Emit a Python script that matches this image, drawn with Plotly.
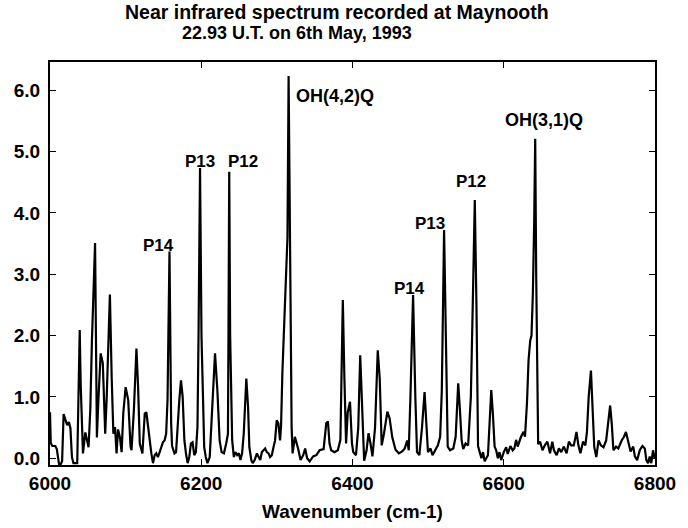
import plotly.graph_objects as go

# Wavenumber (cm-1) and intensity
wavenumber = [
    6000, 6001, 6003, 6007, 6009, 6012, 6014, 6016, 6018, 6020.5, 6022.7, 6025, 6027, 6029, 6031, 6036,
    6039.3, 6040.6, 6043.6, 6046.7, 6048.8, 6051, 6053.3, 6055.4, 6059.6, 6062, 6064, 6067, 6069.8, 6073,
    6075, 6079.2, 6081.6, 6083.8, 6086, 6088, 6090, 6092.6, 6094.7, 6096.9, 6100, 6103.4, 6106.5, 6107.8,
    6110.9, 6114.3, 6116.5, 6118.7, 6122.2, 6125.3, 6127.4, 6129.6, 6131.8, 6134, 6136.2, 6138.4, 6140.5,
    6142.7, 6145, 6147, 6149.3, 6151.5, 6153.6, 6155.4, 6158, 6160.2, 6161.4, 6164.6, 6166.7, 6171, 6173.2,
    6175.4, 6177.7, 6179.8, 6182, 6184.2, 6186.3, 6188.5, 6190.8, 6192.9, 6195, 6196.4, 6198.4, 6200.3,
    6203.9, 6206, 6208.2, 6211.2, 6214.7, 6218.2, 6221.3, 6224.3, 6226.9, 6230, 6233, 6235.3, 6236, 6237,
    6238.2, 6240.9, 6243.1, 6245.2, 6247.5, 6249.7, 6251.8, 6254, 6256.2, 6258.3, 6259.6, 6261.9, 6263.6,
    6266.2, 6268, 6270.6, 6273.6, 6275.9, 6278, 6280.2, 6282.4, 6284.5, 6286.7, 6289, 6291, 6293.3, 6295.5,
    6297.6, 6299.8, 6302, 6304.2, 6305.5, 6307.3, 6309.7, 6311.6, 6314, 6315.5, 6317.5, 6319.5, 6320.8,
    6323.8, 6328.2, 6331.3, 6334.8, 6337.4, 6340, 6343.4, 6347.9, 6352.2, 6356.5, 6361.8, 6365.3, 6367.5,
    6369.6, 6371.8, 6376.2, 6380.6, 6384, 6387.2, 6389.3, 6391.5, 6393.7, 6396.7, 6399.3, 6401, 6404.6,
    6407.6, 6410.2, 6412.4, 6414.1, 6415.4, 6418.6, 6421.2, 6423.8, 6426.4, 6429.8, 6433.4, 6436, 6438.6,
    6441.6, 6446.1, 6449.1, 6452.6, 6456.9, 6461.3, 6465.7, 6469.1, 6472.3, 6474.4, 6476.6, 6480.1, 6483.1,
    6485.3, 6488.4, 6491.9, 6495.3, 6497.5, 6499.8, 6503.2, 6505.8, 6509.3, 6512.9, 6515.9, 6518.1, 6521.1,
    6523.7, 6525.9, 6529, 6533.3, 6536.4, 6539.8, 6542, 6544.3, 6546.4, 6549.5, 6552.9, 6556.5, 6559.5,
    6561.7, 6563.9, 6566, 6568.2, 6570.5, 6572.6, 6574.8, 6579.1, 6581.3, 6583.5, 6585.6, 6587.9, 6590,
    6592.2, 6594.4, 6596.6, 6600, 6603.2, 6605.3, 6608.8, 6611.8, 6614, 6616.3, 6618.4, 6622.8, 6626.2,
    6628.1, 6630.7, 6632.8, 6635, 6636.7, 6638.5, 6640.3, 6641.6, 6642.9, 6644.2, 6645.5, 6648.1, 6651.2,
    6654.3, 6657.7, 6661.2, 6664.2, 6666.4, 6670, 6673, 6676, 6679.5, 6683.1, 6686.1, 6689.1, 6692.6,
    6696.2, 6698.7, 6701.4, 6704.8, 6707.9, 6710, 6712.3, 6715.3, 6717.9, 6719.7, 6722.4, 6725.4, 6728.4,
    6731.9, 6735.4, 6738.4, 6740.7, 6742.8, 6745, 6748.5, 6751.5, 6755.9, 6759, 6761.6, 6764.6, 6767.7,
    6771.2, 6773.4, 6776.4, 6779.9, 6783.4, 6786.5, 6788.6, 6790.8, 6793, 6795.1, 6797.4, 6799.6,
]
intensity = [
    0.75, 0.25, 0.2, 0.2, 0.15, -0.1, -0.1, -0.05, 0.72, 0.62, 0.54, 0.59, 0.49, 0.02, -0.08, -0.08,
    2.09, 1.2, 0.08, 0.42, 0.29, 0.18, 0.8, 1.9, 3.51, 0.34, 0.95, 1.71, 1.55, 0.4,
    1.0, 2.67, 1.3, 0.4, 0.51, 0.08, 0.47, 0.33, 0.1, 0.73, 1.16, 0.95, 0.19, 0.13,
    0.78, 1.79, 1.16, 0.24, 0.08, 0.73, 0.75, 0.51, 0.29, 0.08, -0.08, 0.05, 0.08,
    0.02, 0.1, 0.18, 0.26, 0.29, 0.4, 0.95, 3.37, 0.57, 0.2, 0.08, 0.1, 0.95, 1.27,
    1.0, 0.29, 0.08, -0.08, 0.02, 0.24, 0.26, 0.05, 0.1, 0.51, 2.0, 4.73, 2.0,
    0.18, 0.02, -0.08, 0.02, 0.95, 1.71, 1.11, 0.29, 0.1, 0.08, 0.24, 0.4, 2.0, 4.67,
    2.0, 0.29, 0.02, 0.1, 0.05, 0.08, -0.03, 0.08, 0.4, 0.84, 1.3, 0.84, 0.18,
    -0.03, -0.08, -0.03, 0.08, 0.02, -0.03, 0.1, 0.13, 0.16, 0.1, 0.08, 0.02, 0.05, 0.18,
    0.29, 0.62, 0.57, 0.29, 0.51, 1.4, 2.2, 2.7, 3.6, 6.23, 2.7, 0.51, 0.08,
    0.35, 0.15, -0.03, 0.05, 0.16, 0.0, -0.05, 0.03, 0.05, 0.13, 0.15, 0.57, 0.6,
    0.24, 0.13, 0.1, 0.13, 0.3, 2.58, 1.3, 0.24, 0.75, 0.92, 0.24, 0.1, 0.05,
    0.5, 1.68, 1.0, 0.2, -0.04, 0.13, 0.41, 0.24, 0.03, 0.5, 1.76, 1.3, 0.21,
    0.4, 0.76, 0.65, 0.34, 0.14, 0.08, 0.11, 0.16, 0.29, 0.13, 1.0, 2.66, 1.0,
    0.1, 0.05, 0.5, 1.08, 0.6, 0.1, 0.16, 0.05, 0.13, 0.21, 0.35, 1.1, 3.72,
    2.0, 0.19, 0.13, 0.16, 0.35, 1.22, 0.8, 0.29, 0.15, 0.24, 0.21, 1.0, 2.8,
    4.21, 2.5, 0.2, 0.1, 0.0, 0.1, -0.05, 0.05, 0.6, 1.11, 0.73, 0.19, 0.13,
    0.0, 0.1, -0.03, 0.1, 0.18, 0.07, 0.2, 0.13, 0.16, 0.3, 0.19, 0.35, 0.43,
    0.35, 0.9, 1.6, 1.92, 2.0, 2.69, 3.9, 5.21, 3.0, 0.9, 0.23, 0.27, 0.13,
    0.21, 0.27, 0.08, 0.27, 0.13, 0.05, 0.16, 0.1, 0.19, 0.08, 0.27, 0.21, 0.21,
    0.43, 0.21, 0.08, 0.27, 0.21, 0.43, 1.0, 1.43, 0.8, 0.18, 0.02, 0.29, 0.21,
    0.18, 0.29, 0.57, 0.86, 0.57, 0.13, 0.19, 0.16, 0.29, 0.35, 0.43, 0.29, 0.11,
    0.19, 0.03, -0.03, 0.13, 0.2, 0.16, -0.03, -0.08, 0.03, -0.08, 0.13, 0.0,
]

# Peak labels
label_text = ["P14", "P13", "P12", "OH(4,2)Q", "P14", "P13", "P12", "OH(3,1)Q"]
label_x = [6144, 6198, 6255, 6377, 6475, 6502, 6557, 6653]
label_y = [3.47, 4.83, 4.83, 5.91, 2.77, 3.82, 4.51, 5.51]

x_ticks = [6000, 6200, 6400, 6600, 6800]
y_ticks = [0, 1, 2, 3, 4, 5, 6]

FONT = "Liberation Sans, Arial, Helvetica, sans-serif"

fig = go.Figure()
fig.add_trace(go.Scatter(
    x=wavenumber, y=intensity, mode="lines",
    line=dict(color="black", width=2.2), hoverinfo="skip", showlegend=False,
))

L, R, T, B = 50, 26, 62, 63
W, H = 688, 528
ph = H - T - B

def py(ypx):
    return (H - B - ypx) / ph

def px(xpx):
    return (xpx - L) / (W - L - R)

annotations = []
for t, x, y in zip(label_text, label_x, label_y):
    annotations.append(dict(
        x=x, y=y, xref="x", yref="y", text=t, showarrow=False,
        xanchor="center", yanchor="middle",
        font=dict(family=FONT, size=17 if t.startswith("P") else 18, color="black", weight="bold"),
    ))

annotations.append(dict(x=px(340), y=py(12), xref="paper", yref="paper",
                        text="Near infrared spectrum recorded at Maynooth", showarrow=False,
                        xanchor="center", yanchor="middle", borderpad=0,
                        font=dict(family=FONT, size=19.5, color="black", weight="bold")))
annotations.append(dict(x=px(300), y=py(33), xref="paper", yref="paper",
                        text="22.93 U.T. on 6th May, 1993", showarrow=False,
                        xanchor="center", yanchor="middle", borderpad=0,
                        font=dict(family=FONT, size=18, color="black", weight="bold")))
annotations.append(dict(x=0.5, y=py(511), xref="paper", yref="paper",
                        text="Wavenumber (cm-1)", showarrow=False,
                        xanchor="center", yanchor="middle",
                        font=dict(family=FONT, size=19, color="black", weight="bold")))

fig.update_layout(
    width=W, height=H,
    margin=dict(l=L, r=R, t=T, b=B, pad=0),
    paper_bgcolor="white", plot_bgcolor="white",
    annotations=annotations,
    showlegend=False,
    xaxis=dict(
        range=[6000, 6800], tickvals=x_ticks, ticktext=[str(v) for v in x_ticks],
        showgrid=False, zeroline=False,
        showline=True, linecolor="black", linewidth=2, mirror="allticks",
        ticks="inside", ticklen=6, tickwidth=1, tickcolor="black",
        tickfont=dict(family=FONT, size=19, color="black", weight="bold"),
    ),
    yaxis=dict(
        range=[-0.11, 6.46], tickvals=y_ticks, ticktext=[f"{v:.1f}" for v in y_ticks],
        showgrid=False, zeroline=False,
        showline=True, linecolor="black", linewidth=2, mirror="allticks",
        ticks="inside", ticklen=6, tickwidth=1, tickcolor="black",
        tickfont=dict(family=FONT, size=19, color="black", weight="bold"),
        ticklabelstandoff=4,
    ),
)

fig.write_html("out.html")
